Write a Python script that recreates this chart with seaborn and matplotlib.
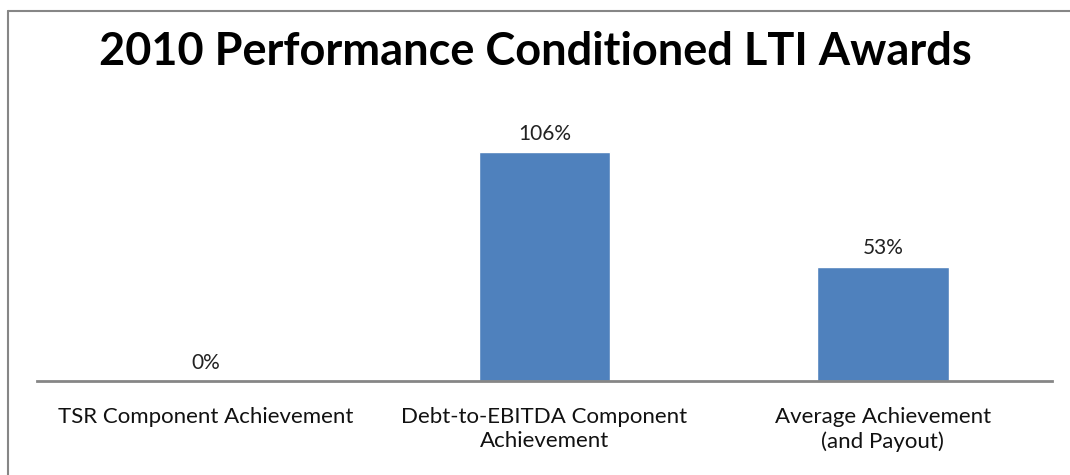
import matplotlib
matplotlib.use("Agg")
import matplotlib.pyplot as plt
import seaborn as sns
import pandas as pd

categories = [
    "TSR Component Achievement",
    "Debt-to-EBITDA Component\nAchievement",
    "Average Achievement\n(and Payout)",
]
values = [0, 106, 53]
value_labels = ["0%", "106%", "53%"]
title = "2010 Performance Conditioned LTI Awards"

sns.set_style("white")
plt.rcParams["font.family"] = ["Lato", "DejaVu Sans"]

df = pd.DataFrame({"category": categories, "value": values})

fig = plt.figure(figsize=(10.7, 4.75), dpi=100)
ax = fig.add_axes([37 / 1070, 1 - 381 / 475, (1052 - 37) / 1070, (381 - 122) / 475])

sns.barplot(data=df, x="category", y="value", color="#4F81BD", saturation=1,
            width=0.39, ax=ax)
ax.set_ylim(0, 120)
ax.set_xlim(-0.5, 2.5)

for i, (v, lab) in enumerate(zip(values, value_labels)):
    ax.annotate(lab, (i, v), xytext=(0, 6), textcoords="offset points",
                ha="center", va="bottom", fontsize=15, color="#222222")

ax.set_xlabel("")
ax.set_ylabel("")
ax.set_yticks([])
ax.tick_params(axis="x", length=0, pad=19, labelsize=16, labelcolor="#111111")
for t in ax.get_xticklabels():
    t.set_va("top")
    t.set_linespacing(1.25)
for s in ["top", "right", "left"]:
    ax.spines[s].set_visible(False)
ax.spines["bottom"].set_color("#868686")
ax.spines["bottom"].set_linewidth(2)

fig.text(0.5, 1 - 52 / 475, title, ha="center", va="center",
         fontsize=32.5, fontweight="bold", color="black")

# chart area border (runs off the right and bottom edges)
fig.add_artist(plt.Line2D([8 / 1070, 8 / 1070], [0, 1 - 11 / 475],
                          color="#868686", lw=1.5, transform=fig.transFigure))
fig.add_artist(plt.Line2D([8 / 1070, 1], [1 - 11 / 475, 1 - 11 / 475],
                          color="#868686", lw=1.5, transform=fig.transFigure))

fig.savefig("out.png", dpi=100)
